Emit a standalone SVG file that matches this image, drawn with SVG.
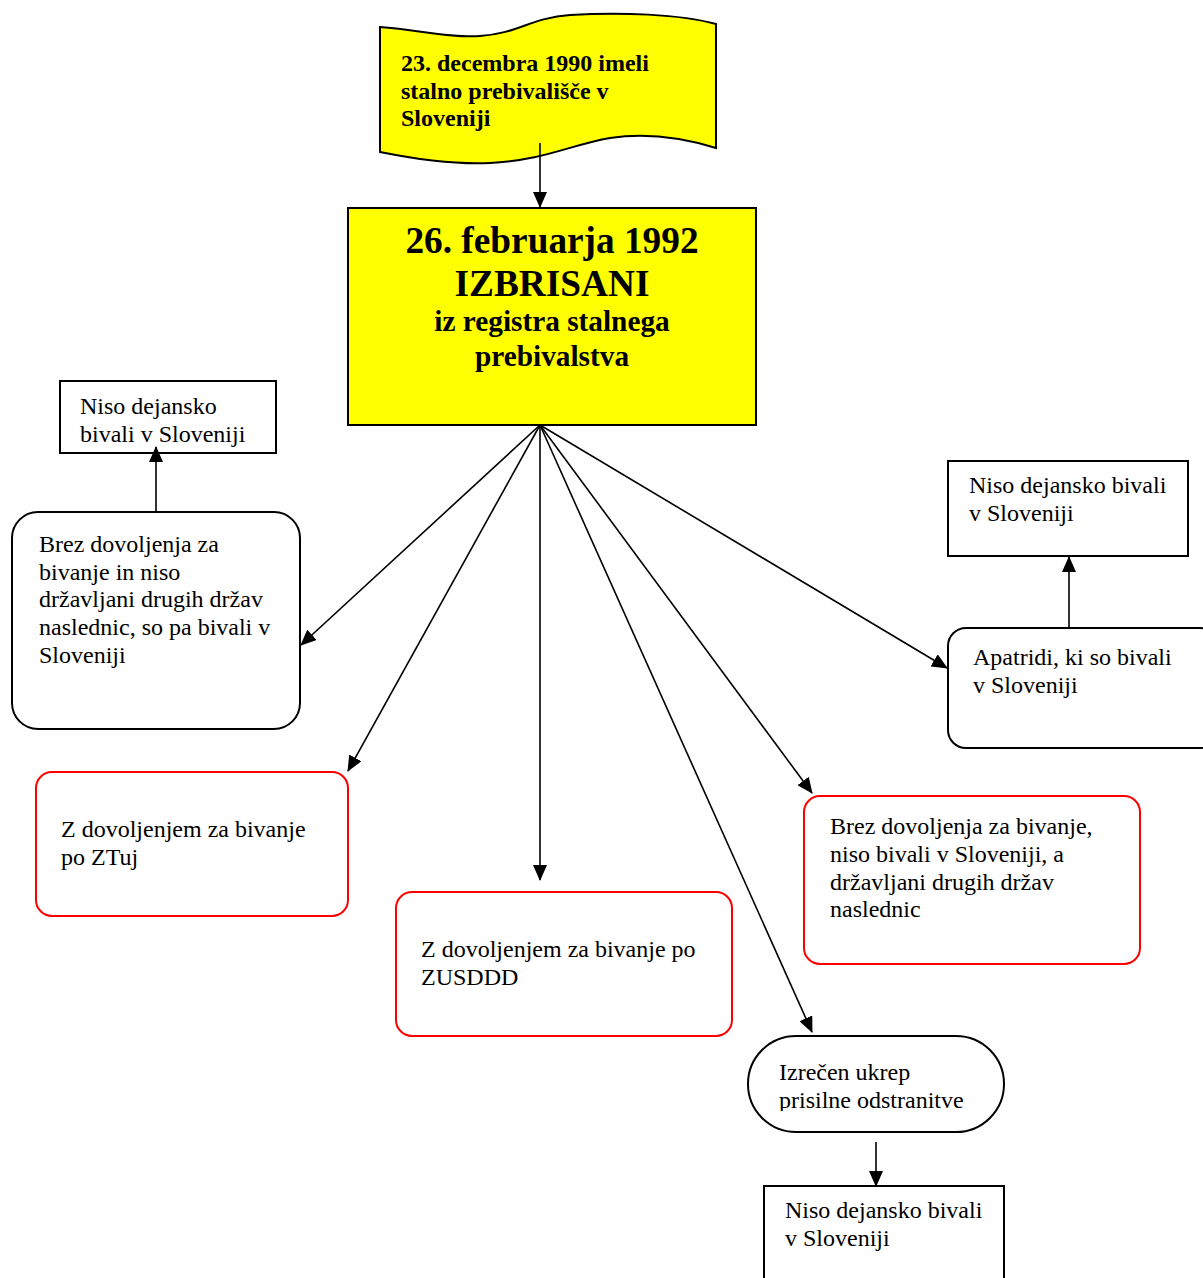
<svg xmlns="http://www.w3.org/2000/svg" width="1203" height="1278" viewBox="0 0 1203 1278">
<style>
text{font-family:"Liberation Serif","Times New Roman",serif;fill:#000}
.t{font-size:24px}
.b{font-weight:bold}
.box{fill:#fff;stroke:#000;stroke-width:2}
.red{fill:#fff;stroke:#ff0000;stroke-width:2}
.conn line{stroke:#000;stroke-width:1.6;marker-end:url(#ah)}
</style>
<defs>
<marker id="ah" markerUnits="userSpaceOnUse" markerWidth="16" markerHeight="14" refX="15" refY="7" orient="auto" viewBox="0 0 16 14">
<path d="M0,0 L16,7 L0,14 Z" fill="#000"/>
</marker>
<clipPath id="c1"><rect x="60" y="381" width="216" height="72"/></clipPath>
<clipPath id="c2"><rect x="748" y="1036" width="256" height="75"/></clipPath>
</defs>

<g id="banner">
<path d="M380,27 C420,30 450,38 480,36 C520,33 530,18 570,15 C620,12 680,14 716,24 L716,148 C690,140 650,132 610,138 C570,145 545,160 490,163 C450,165 410,158 380,152 Z" fill="#ffff00" stroke="#000" stroke-width="2"/>
<text class="b" font-size="24" x="401" y="71">23. decembra 1990 imeli</text>
<text class="b" font-size="24" x="401" y="99">stalno prebivališče v</text>
<text class="b" font-size="24" x="401" y="126">Sloveniji</text>
</g>

<g id="main">
<rect x="348" y="208" width="408" height="217" fill="#ffff00" stroke="#000" stroke-width="2"/>
<text class="b" font-size="37.3" x="552" y="253" text-anchor="middle">26. februarja 1992</text>
<text class="b" font-size="37.3" x="552" y="296" text-anchor="middle">IZBRISANI</text>
<text class="b" font-size="29.3" x="552" y="331" text-anchor="middle">iz registra stalnega</text>
<text class="b" font-size="29.3" x="552" y="366" text-anchor="middle">prebivalstva</text>
</g>

<g id="left-top">
<rect class="box" x="60" y="381" width="216" height="72"/>
<g clip-path="url(#c1)">
<text class="t" x="80" y="414">Niso dejansko</text>
<text class="t" x="80" y="442">bivali v Sloveniji</text>
</g>
</g>

<g id="left-round">
<rect class="box" x="12" y="512" width="288" height="217" rx="26"/>
<text class="t" x="39" y="552">Brez dovoljenja za</text>
<text class="t" x="39" y="580">bivanje in niso</text>
<text class="t" x="39" y="607">državljani drugih držav</text>
<text class="t" x="39" y="635">naslednic, so pa bivali v</text>
<text class="t" x="39" y="663">Sloveniji</text>
</g>

<g id="red1">
<rect class="red" x="36" y="772" width="312" height="144" rx="16"/>
<text class="t" x="61" y="837">Z dovoljenjem za bivanje</text>
<text class="t" x="61" y="865">po ZTuj</text>
</g>

<g id="red2">
<rect class="red" x="396" y="892" width="336" height="144" rx="16"/>
<text class="t" x="421" y="957">Z dovoljenjem za bivanje po</text>
<text class="t" x="421" y="985">ZUSDDD</text>
</g>

<g id="red3">
<rect class="red" x="804" y="796" width="336" height="168" rx="16"/>
<text class="t" x="830" y="834">Brez dovoljenja za bivanje,</text>
<text class="t" x="830" y="862">niso bivali v Sloveniji, a</text>
<text class="t" x="830" y="890">državljani drugih držav</text>
<text class="t" x="830" y="917">naslednic</text>
</g>

<g id="right-top">
<rect class="box" x="948" y="461" width="240" height="95"/>
<text class="t" x="969" y="493">Niso dejansko bivali</text>
<text class="t" x="969" y="521">v Sloveniji</text>
</g>

<g id="right-round">
<rect class="box" x="948" y="628" width="270" height="120" rx="18"/>
<text class="t" x="973" y="665">Apatridi, ki so bivali</text>
<text class="t" x="973" y="693">v Sloveniji</text>
</g>

<g id="stadium">
<rect class="box" x="748" y="1036" width="256" height="96" rx="48"/>
<g clip-path="url(#c2)">
<text class="t" x="779" y="1080">Izrečen ukrep</text>
<text class="t" x="779" y="1108">prisilne odstranitve</text>
</g>
</g>

<g id="bottom">
<rect class="box" x="764" y="1186" width="240" height="110"/>
<text class="t" x="785" y="1218">Niso dejansko bivali</text>
<text class="t" x="785" y="1246">v Sloveniji</text>
</g>

<g id="connectors" class="conn">
<line x1="540" y1="143" x2="540" y2="207"/>
<line x1="540" y1="425" x2="301" y2="645"/>
<line x1="540" y1="425" x2="348" y2="771"/>
<line x1="540" y1="425" x2="540" y2="880"/>
<line x1="540" y1="425" x2="812" y2="1032"/>
<line x1="540" y1="425" x2="812" y2="793"/>
<line x1="540" y1="425" x2="947" y2="668"/>
<line x1="156" y1="512" x2="156" y2="447"/>
<line x1="1069" y1="628" x2="1069" y2="557"/>
<line x1="876" y1="1142" x2="876" y2="1186"/>
</g>
</svg>
